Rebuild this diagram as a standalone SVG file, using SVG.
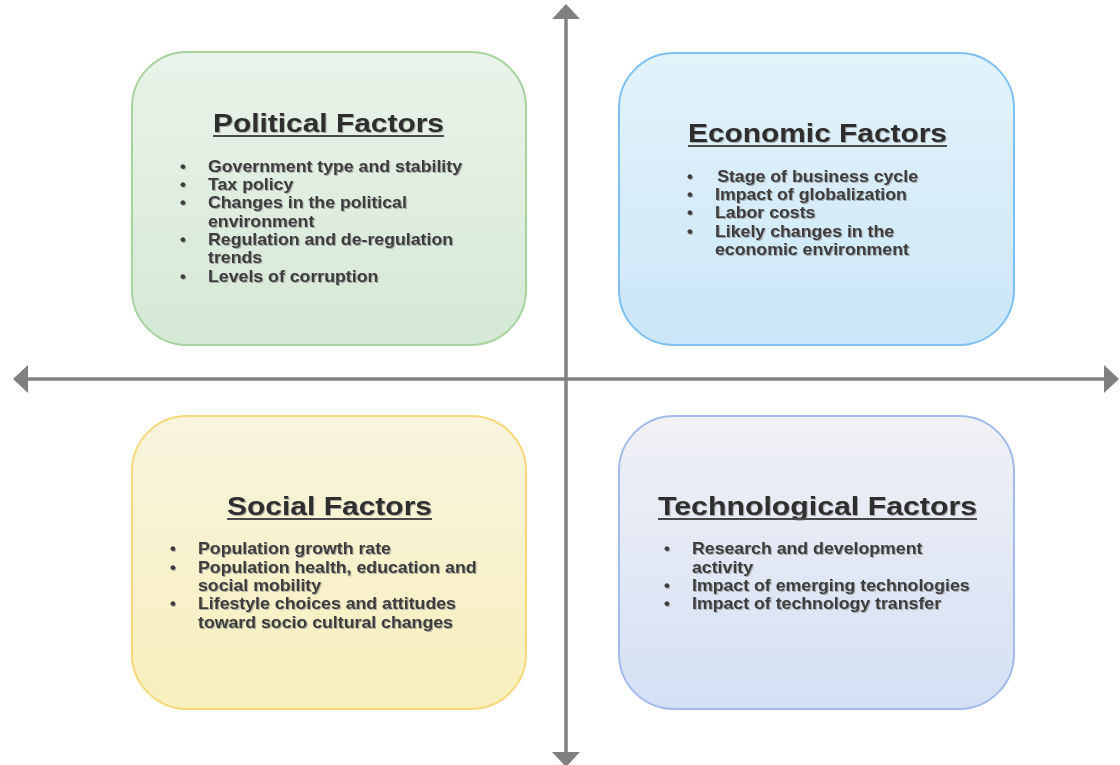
<svg xmlns="http://www.w3.org/2000/svg" width="1120" height="765" viewBox="0 0 1120 765">
  <style>
    .box { stroke-width: 2; }
    .title { font-family: "Liberation Sans", Arial, sans-serif; font-weight: bold; font-size: 26px; fill: #2e2e2e; filter: url(#sh); }
    .ul { stroke: #4a4a4a; stroke-width: 2; }
    .item { font-family: "Liberation Sans", Arial, sans-serif; font-weight: bold; font-size: 16.5px; fill: #3c3c3c; filter: url(#sh); }
    .axis { stroke: #808080; stroke-width: 3.5; fill: none; }
  </style>
  <defs>
    <filter id="sh" x="-5%" y="-20%" width="110%" height="150%">
      <feDropShadow dx="1" dy="1" stdDeviation="0.6" flood-color="#7a7a7a" flood-opacity="0.6"/>
    </filter>
    <marker id="arr" markerUnits="userSpaceOnUse" markerWidth="16" markerHeight="30" refX="0" refY="14" orient="auto-start-reverse" viewBox="0 0 16 28">
      <path d="M0,0 L15,14 L0,28 Z" fill="#808080"/>
    </marker>
    <linearGradient id="gP" x1="0" y1="0" x2="0" y2="1">
      <stop offset="0" stop-color="#eaf4ea"/>
      <stop offset="1" stop-color="#d5e8d5"/>
    </linearGradient>
    <linearGradient id="gE" x1="0" y1="0" x2="0" y2="1">
      <stop offset="0" stop-color="#e3f3fa"/>
      <stop offset="1" stop-color="#cbe6f8"/>
    </linearGradient>
    <linearGradient id="gS" x1="0" y1="0" x2="0" y2="1">
      <stop offset="0" stop-color="#f8f4de"/>
      <stop offset="1" stop-color="#f8efbd"/>
    </linearGradient>
    <linearGradient id="gT" x1="0" y1="0" x2="0" y2="1">
      <stop offset="0" stop-color="#f1f1f5"/>
      <stop offset="1" stop-color="#d3e0f5"/>
    </linearGradient>
  </defs>

  <rect width="1120" height="765" fill="#ffffff"/>

  <g id="connectors">
    <line class="axis" x1="566" y1="19" x2="566" y2="752" marker-start="url(#arr)" marker-end="url(#arr)"/>
    <line class="axis" x1="28" y1="379" x2="1104" y2="379" marker-start="url(#arr)" marker-end="url(#arr)"/>
  </g>

  <g id="political">
    <rect class="box" x="132" y="52" width="394" height="293" rx="55" ry="55" fill="url(#gP)" stroke="#a6d39e"/>
    <text class="title" x="213" y="131.7" textLength="231" lengthAdjust="spacingAndGlyphs">Political Factors</text>
    <line class="ul" x1="213" y1="136" x2="444" y2="136"/>
    <g class="item">
      <text x="180" y="171.7">•</text>
      <text x="180" y="190">•</text>
      <text x="180" y="208.3">•</text>
      <text x="180" y="245">•</text>
      <text x="180" y="281.7">•</text>
    </g>
    <g class="item" transform="translate(208,0) scale(1.075,1)">
      <text x="0" y="171.7">Government type and stability</text>
      <text x="0" y="190">Tax policy</text>
      <text x="0" y="208.3">Changes in the political</text>
      <text x="0" y="226.7">environment</text>
      <text x="0" y="245">Regulation and de-regulation</text>
      <text x="0" y="263.3">trends</text>
      <text x="0" y="281.7">Levels of corruption</text>
    </g>
  </g>

  <g id="economic">
    <rect class="box" x="619" y="53" width="395" height="292" rx="55" ry="55" fill="url(#gE)" stroke="#7fc0f2"/>
    <text class="title" x="688" y="141.7" textLength="259" lengthAdjust="spacingAndGlyphs">Economic Factors</text>
    <line class="ul" x1="688" y1="146" x2="947" y2="146"/>
    <g class="item">
      <text x="687" y="181.7">•</text>
      <text x="687" y="200">•</text>
      <text x="687" y="218.3">•</text>
      <text x="687" y="236.7">•</text>
    </g>
    <g class="item" transform="translate(715,0) scale(1.075,1)">
      <text x="2" y="181.7">Stage of business cycle</text>
      <text x="0" y="200">Impact of globalization</text>
      <text x="0" y="218.3">Labor costs</text>
      <text x="0" y="236.7">Likely changes in the</text>
      <text x="0" y="255">economic environment</text>
    </g>
  </g>

  <g id="social">
    <rect class="box" x="132" y="416" width="394" height="293" rx="55" ry="55" fill="url(#gS)" stroke="#f7d878"/>
    <text class="title" x="227" y="515" textLength="205" lengthAdjust="spacingAndGlyphs">Social Factors</text>
    <line class="ul" x1="227" y1="519" x2="432" y2="519"/>
    <g class="item">
      <text x="170" y="554.3">•</text>
      <text x="170" y="572.7">•</text>
      <text x="170" y="609.3">•</text>
    </g>
    <g class="item" transform="translate(198,0) scale(1.075,1)">
      <text x="0" y="554.3">Population growth rate</text>
      <text x="0" y="572.7">Population health, education and</text>
      <text x="0" y="591">social mobility</text>
      <text x="0" y="609.3">Lifestyle choices and attitudes</text>
      <text x="0" y="627.7">toward socio cultural changes</text>
    </g>
  </g>

  <g id="technological">
    <rect class="box" x="619" y="416" width="395" height="293" rx="55" ry="55" fill="url(#gT)" stroke="#a2bbea"/>
    <text class="title" x="658" y="515" textLength="319" lengthAdjust="spacingAndGlyphs">Technological Factors</text>
    <line class="ul" x1="658" y1="519" x2="977" y2="519"/>
    <g class="item">
      <text x="664" y="554.3">•</text>
      <text x="664" y="591">•</text>
      <text x="664" y="609.3">•</text>
    </g>
    <g class="item" transform="translate(692,0) scale(1.075,1)">
      <text x="0" y="554.3">Research and development</text>
      <text x="0" y="572.7">activity</text>
      <text x="0" y="591">Impact of emerging technologies</text>
      <text x="0" y="609.3">Impact of technology transfer</text>
    </g>
  </g>
</svg>
